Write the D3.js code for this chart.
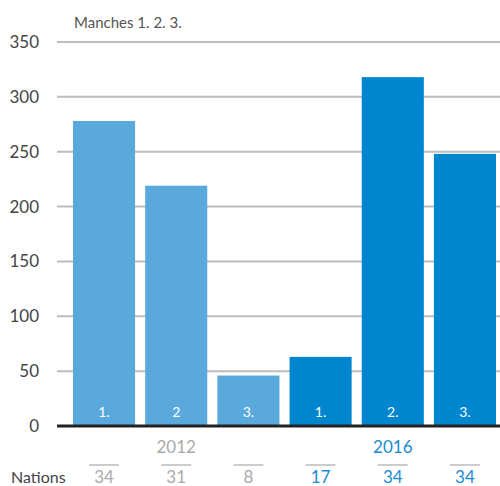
<!DOCTYPE html>
<html>
<head>
<meta charset="utf-8">
<script src="https://cdn.jsdelivr.net/npm/d3@7"></script>
<style>
  body { margin: 0; background: #fff; }
  text { font-family: Lato, "Open Sans", sans-serif; }
</style>
</head>
<body>
<div id="container"></div>
<script>
/* DATA */
const years = ["2012", "2012", "2012", "2016", "2016", "2016"];
const rounds = ["1.", "2", "3.", "1.", "2.", "3."];
const values = [278, 219, 46, 63, 318, 248];
const nations = [34, 31, 8, 17, 34, 34];
const yTicks = [0, 50, 100, 150, 200, 250, 300, 350];

const width = 500, height = 486;
const colors = { "2012": "#5aa9dc", "2016": "#0086cf" };
const textColors = { "2012": "#aaaaaa", "2016": "#1a8bd2" };

const svg = d3.select("#container").append("svg")
  .attr("width", width)
  .attr("height", height);

/* SCALES */
const x = d3.scaleBand()
  .domain(d3.range(values.length))
  .range([73, 496])
  .paddingInner(0.14)
  .paddingOuter(0);

const y = d3.scaleLinear()
  .domain([0, 350])
  .range([426, 42]);

/* GRID + Y LABELS */
svg.selectAll("line.grid")
  .data(yTicks.filter(d => d > 0))
  .enter().append("line")
  .attr("x1", 57).attr("x2", width)
  .attr("y1", d => y(d)).attr("y2", d => y(d))
  .attr("stroke", "#bdbdbd")
  .attr("stroke-width", 2);

svg.selectAll("text.ytick")
  .data(yTicks)
  .enter().append("text")
  .attr("x", 39)
  .attr("y", d => y(d) + 6)
  .attr("text-anchor", "end")
  .attr("font-size", 17)
  .attr("fill", "#444")
  .text(d => d);

svg.append("text")
  .attr("x", 74).attr("y", 28)
  .attr("font-size", 15)
  .attr("fill", "#555")
  .text("Manches 1. 2. 3.");

/* BARS */
svg.selectAll("rect")
  .data(values)
  .enter().append("rect")
  .attr("x", (d, i) => x(i))
  .attr("y", d => y(d))
  .attr("width", x.bandwidth())
  .attr("height", d => y(0) - y(d))
  .attr("fill", (d, i) => colors[years[i]]);

svg.selectAll("text.round")
  .data(rounds)
  .enter().append("text")
  .attr("x", (d, i) => x(i) + x.bandwidth() / 2)
  .attr("y", 417)
  .attr("text-anchor", "middle")
  .attr("font-size", 14)
  .attr("fill", "#fff")
  .text(d => d);

/* BASELINE */
svg.append("line")
  .attr("x1", 57).attr("x2", width)
  .attr("y1", y(0)).attr("y2", y(0))
  .attr("stroke", "#222")
  .attr("stroke-width", 3);

/* YEAR LABELS */
["2012", "2016"].forEach(yr => {
  const idx = years.map((d, i) => d === yr ? i : -1).filter(i => i >= 0);
  const cx = (x(idx[0]) + x(idx[idx.length - 1]) + x.bandwidth()) / 2;
  svg.append("text")
    .attr("x", cx).attr("y", 453)
    .attr("text-anchor", "middle")
    .attr("font-size", 17)
    .attr("fill", textColors[yr])
    .text(yr);
});

/* NATIONS ROW */
svg.append("text")
  .attr("x", 11).attr("y", 483)
  .attr("font-size", 16)
  .attr("fill", "#444")
  .text("Nations");

svg.selectAll("line.nat")
  .data(nations)
  .enter().append("line")
  .attr("x1", (d, i) => x(i) + x.bandwidth() / 2 - 15)
  .attr("x2", (d, i) => x(i) + x.bandwidth() / 2 + 15)
  .attr("y1", 465).attr("y2", 465)
  .attr("stroke", "#999")
  .attr("stroke-width", 1);

svg.selectAll("text.nat")
  .data(nations)
  .enter().append("text")
  .attr("x", (d, i) => x(i) + x.bandwidth() / 2)
  .attr("y", 483)
  .attr("text-anchor", "middle")
  .attr("font-size", 17)
  .attr("fill", (d, i) => textColors[years[i]])
  .text(d => d);
</script>
</body>
</html>
